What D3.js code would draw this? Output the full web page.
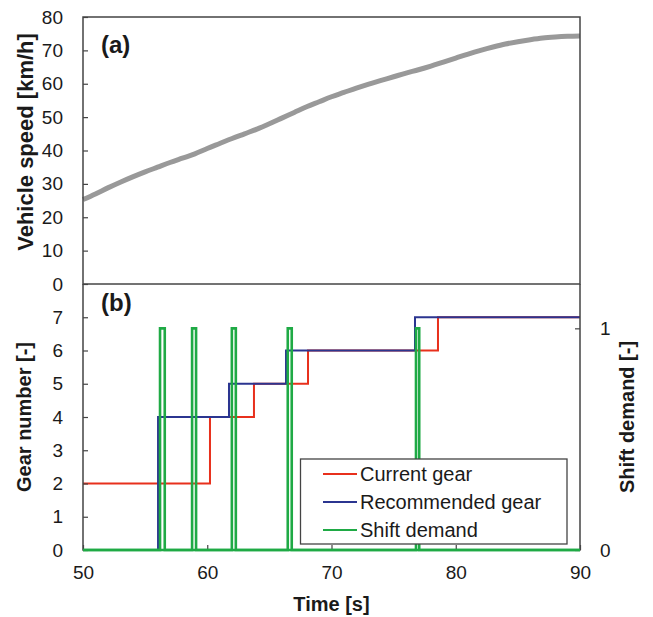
<!DOCTYPE html>
<html>
<head>
<meta charset="utf-8">
<script src="https://cdn.jsdelivr.net/npm/d3@7/dist/d3.min.js"></script>
<style>
  html, body { margin: 0; padding: 0; background: #fff; }
  svg { display: block; }
  text { font-family: "Liberation Sans", Arial, sans-serif; fill: #1a1a1a; }
</style>
</head>
<body>
<svg id="chart" width="653" height="617"></svg>
<script>
// ---- Data ----
const speedTime  = [50,51,52,53,54,55,56,57,58,59,60,61,62,63,64,65,66,67,68,69,70,71,72,73,74,75,76,77,78,79,80,81,82,83,84,85,86,87,88,89,90];
const speedValue = [25.3,27.0,28.8,30.5,32.1,33.6,35.0,36.4,37.7,39.0,40.6,42.1,43.6,45.0,46.4,48.0,49.7,51.4,53.1,54.6,56.1,57.4,58.7,59.9,61.0,62.1,63.2,64.2,65.3,66.5,67.7,68.9,70.0,71.0,71.9,72.6,73.2,73.7,74.0,74.2,74.3];

const currentGearTimes  = [50, 60.22, 63.76, 68.11, 78.57, 90];
const currentGearValues = [2, 4, 5, 6, 7, 7];

const recGearTimes  = [50, 56.04, 61.75, 66.34, 76.72, 90];
const recGearValues = [0, 4, 5, 6, 7, 7];

const shiftStart = [56.20, 58.78, 61.98, 66.48, 76.80];
const shiftWidth = [0.38, 0.32, 0.32, 0.32, 0.26];

const xTicks = [50, 60, 70, 80, 90];
const speedTicks = [0, 10, 20, 30, 40, 50, 60, 70, 80];
const gearTicks = [0, 1, 2, 3, 4, 5, 6, 7];
const shiftTicks = [0, 1];

const legendLabels = ["Current gear", "Recommended gear", "Shift demand"];
const colors = { current: "#e8301c", rec: "#2b3590", shift: "#1faa45", speed: "#999999", frame: "#444" };

// ---- Layout ----
const L = 83, R = 580, T1 = 17, B1 = 284, T2 = 284, B2 = 550;
const svg = d3.select("#chart");

const x = d3.scaleLinear().domain([50, 90]).range([L, R]);
const ySpeed = d3.scaleLinear().domain([0, 80]).range([B1, T1]);
const yGear = d3.scaleLinear().domain([0, 8]).range([B2, T2]);
const yShift = d3.scaleLinear().domain([0, 1.2]).range([B2, T2]);

const tickFont = 19;

// ---- Panel (a) ----
const speedLine = d3.line().x((d, i) => x(speedTime[i])).y(d => ySpeed(d)).curve(d3.curveMonotoneX);
const gA = svg.append("g");
gA.append("path").datum(speedValue)
  .attr("d", speedLine).attr("fill", "none")
  .attr("stroke", colors.speed).attr("stroke-width", 5).attr("stroke-linecap", "butt");

const axA = gA.append("g").attr("transform", `translate(${L},0)`)
  .call(d3.axisLeft(ySpeed).tickValues(speedTicks).tickSizeInner(-5).tickSizeOuter(0).tickPadding(20));
axA.select(".domain").remove();
axA.selectAll(".tick line").attr("stroke", colors.frame).attr("stroke-width", 1.2);
axA.selectAll(".tick text").style("font-size", tickFont + "px").attr("fill", "#1a1a1a")
  .style("font-family", '"Liberation Sans", Arial, sans-serif');

gA.append("rect").attr("x", L).attr("y", T1).attr("width", R - L).attr("height", B1 - T1)
  .attr("fill", "none").attr("stroke", colors.frame).attr("stroke-width", 1.5);

gA.append("text").attr("x", 101).attr("y", 53).text("(a)")
  .style("font-size", "24px").style("font-weight", "bold");

svg.append("text").attr("transform", `translate(33,142) rotate(-90)`)
  .attr("text-anchor", "middle").text("Vehicle speed [km/h]")
  .style("font-size", "22px").style("font-weight", "bold");

// ---- Panel (b) ----
const gB = svg.append("g");

const stepLine = (times, yScale) => d3.line()
  .x((d, i) => x(times[i])).y(d => yScale(d)).curve(d3.curveStepAfter);

gB.append("path").datum(currentGearValues)
  .attr("d", stepLine(currentGearTimes, yGear))
  .attr("fill", "none").attr("stroke", colors.current).attr("stroke-width", 2);

gB.append("path").datum(recGearValues)
  .attr("d", stepLine(recGearTimes, yGear))
  .attr("fill", "none").attr("stroke", colors.rec).attr("stroke-width", 2);

// shift demand pulses
const pulsePts = [[50, 0]];
shiftStart.forEach((s, i) => {
  pulsePts.push([s, 0], [s, 1], [s + shiftWidth[i], 1], [s + shiftWidth[i], 0]);
});
pulsePts.push([90, 0]);
gB.append("path").datum(pulsePts)
  .attr("d", d3.line().x(d => x(d[0])).y(d => yShift(d[1])))
  .attr("fill", "none").attr("stroke", colors.shift).attr("stroke-width", 2.6)
  .attr("stroke-linejoin", "miter");

// left axis
const axBL = gB.append("g").attr("transform", `translate(${L},0)`)
  .call(d3.axisLeft(yGear).tickValues(gearTicks).tickSizeInner(-5).tickSizeOuter(0).tickPadding(20));
axBL.select(".domain").remove();
// right axis
const axBR = gB.append("g").attr("transform", `translate(${R},0)`)
  .call(d3.axisRight(yShift).tickValues(shiftTicks).tickFormat(d3.format("d")).tickSizeInner(-5).tickSizeOuter(0).tickPadding(20));
axBR.select(".domain").remove();
// bottom axis
const axBB = gB.append("g").attr("transform", `translate(0,${B2})`)
  .call(d3.axisBottom(x).tickValues(xTicks).tickSizeInner(-5).tickSizeOuter(0).tickPadding(16));
axBB.select(".domain").remove();

[axBL, axBR, axBB].forEach(a => {
  a.selectAll(".tick line").attr("stroke", colors.frame).attr("stroke-width", 1.2);
  a.selectAll(".tick text").style("font-size", tickFont + "px").attr("fill", "#1a1a1a")
    .style("font-family", '"Liberation Sans", Arial, sans-serif');
});

// frame (left, bottom, right lines)
gB.append("path")
  .attr("d", `M${L},${T2}V${B2}H${R}V${T2}`)
  .attr("fill", "none").attr("stroke", colors.frame).attr("stroke-width", 1.5);
// green baseline over frame bottom
gB.append("line").attr("x1", x(50)).attr("x2", x(90)).attr("y1", yShift(0)).attr("y2", yShift(0))
  .attr("stroke", colors.shift).attr("stroke-width", 2.6);

gB.append("text").attr("x", 101).attr("y", 311).text("(b)")
  .style("font-size", "24px").style("font-weight", "bold");

svg.append("text").attr("transform", `translate(31,${(T2 + B2) / 2}) rotate(-90)`)
  .attr("text-anchor", "middle").text("Gear number [-]")
  .style("font-size", "20px").style("font-weight", "bold");

svg.append("text").attr("transform", `translate(634,${(T2 + B2) / 2}) rotate(-90)`)
  .attr("text-anchor", "middle").text("Shift demand [-]")
  .style("font-size", "20px").style("font-weight", "bold");

svg.append("text").attr("x", (L + R) / 2).attr("y", 611).attr("text-anchor", "middle")
  .text("Time [s]").style("font-size", "20px").style("font-weight", "bold");

// ---- Legend ----
const lg = svg.append("g");
lg.append("rect").attr("x", 300.5).attr("y", 459).attr("width", 266.5).attr("height", 85)
  .attr("fill", "#fff").attr("stroke", colors.frame).attr("stroke-width", 1.3);
const legendColors = [colors.current, colors.rec, colors.shift];
legendLabels.forEach((lab, i) => {
  const yy = 474 + i * 28;
  lg.append("line").attr("x1", 323).attr("x2", 357).attr("y1", yy).attr("y2", yy)
    .attr("stroke", legendColors[i]).attr("stroke-width", 2.2);
  lg.append("text").attr("x", 360).attr("y", yy + 7).text(lab).style("font-size", "20px");
});
</script>
</body>
</html>
